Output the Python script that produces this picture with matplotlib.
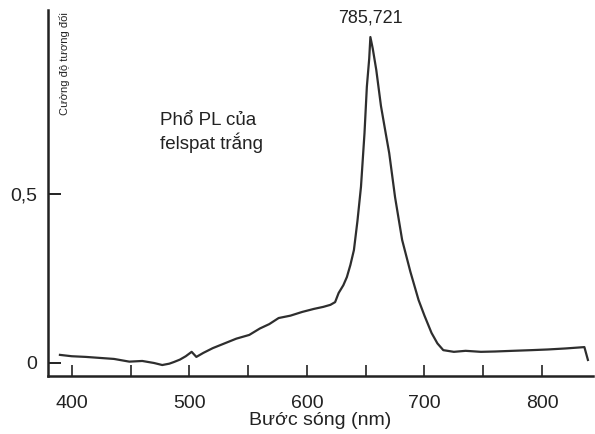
import matplotlib
matplotlib.use("Agg")
import matplotlib.pyplot as plt
from matplotlib.ticker import MultipleLocator

# Data
wavelength = [390, 400, 412, 424, 436, 449, 460, 470, 477, 483, 487, 492, 497, 502,
              506, 512, 520, 530, 540, 551, 560, 568, 576, 586, 596, 606, 614, 620,
              624, 627, 631, 634, 637, 640, 643, 646, 649, 651, 653, 654, 656, 659,
              663, 667, 670, 675, 681, 688, 695, 700, 706, 711, 716, 725, 735, 748,
              760, 775, 791, 805, 820, 836, 839]
intensity = [0.024, 0.020, 0.018, 0.015, 0.012, 0.004, 0.006, 0.000, -0.006, -0.002, 0.003, 0.010, 0.020, 0.033,
             0.018, 0.030, 0.044, 0.058, 0.072, 0.083, 0.102, 0.115, 0.133, 0.140, 0.151, 0.160, 0.166, 0.172,
             0.180, 0.207, 0.230, 0.254, 0.290, 0.334, 0.420, 0.521, 0.680, 0.817, 0.900, 0.964, 0.930, 0.867,
             0.760, 0.680, 0.621, 0.490, 0.364, 0.270, 0.186, 0.140, 0.089, 0.058, 0.038, 0.033, 0.036, 0.033,
             0.034, 0.036, 0.038, 0.040, 0.043, 0.047, 0.009]

peak_label = "785,721"
peak_x = 654
peak_y = 0.964
x_major = [400, 500, 600, 700, 800]
y_ticks = [0, 0.5]
y_ticklabels = ["0", "0,5"]

plt.rcParams['font.family'] = ['Liberation Sans', 'DejaVu Sans']
fig = plt.figure(figsize=(5.95, 4.34), dpi=100)
ax = fig.add_axes([0.081, 0.134, 0.915, 0.843])

ax.plot(wavelength, intensity, color="#2e2e2e", lw=1.6)

ax.set_xlim(380, 843)
ax.set_ylim(-0.038, 1.044)

for s in ["top", "right"]:
    ax.spines[s].set_visible(False)
ax.spines["left"].set_linewidth(1.8)
ax.spines["bottom"].set_linewidth(1.8)
ax.spines["left"].set_color("#222222")
ax.spines["bottom"].set_color("#222222")

ax.set_xticks(x_major)
ax.set_xticklabels([str(v) for v in x_major])
ax.xaxis.set_minor_locator(MultipleLocator(50))
ax.tick_params(axis="x", which="both", direction="in", length=8, width=1.2,
               pad=14, labelsize=14, colors="#222222")
ax.set_yticks(y_ticks)
ax.set_yticklabels(y_ticklabels)
ax.tick_params(axis="y", direction="in", length=9, width=1.4, pad=8,
               labelsize=14, colors="#222222")

ax.set_xlabel("Bước sóng (nm)", fontsize=14, color="#222222", labelpad=0)

ax.text(0.02, 0.995, "Cường độ tương đối", transform=ax.transAxes, rotation=90,
        ha="left", va="top", fontsize=8, color="#222222")

ax.annotate(peak_label, xy=(peak_x, peak_y), xytext=(peak_x, peak_y + 0.055),
            ha="center", va="center", fontsize=13, color="#222222")

ax.text(0.205, 0.665, "Phổ PL của\nfelspat trắng", transform=ax.transAxes,
        ha="left", va="center", fontsize=13.5, color="#222222", linespacing=1.25)

fig.savefig("out.png", dpi=100)
